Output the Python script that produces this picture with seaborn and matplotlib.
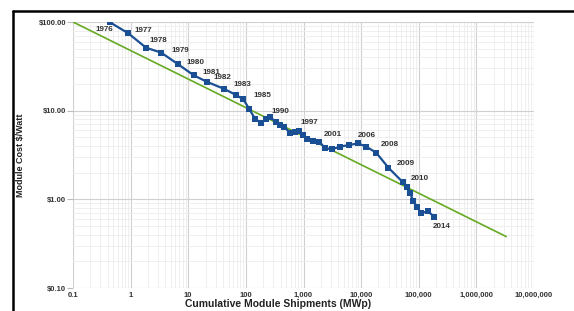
import matplotlib
matplotlib.use("Agg")
import matplotlib.pyplot as plt
import matplotlib.ticker as mticker
from matplotlib.lines import Line2D
import seaborn as sns
import pandas as pd

# ---- data ----
shipments_mw = [0.44, 0.91, 1.85, 3.4, 6.7, 12.4, 20.9, 42, 67.6, 90.5, 115, 144, 184, 224,
                263, 334, 392, 466, 585, 714, 850, 996, 1170, 1487, 1890, 2370, 3100, 4320,
                6270, 8770, 12200, 18200, 29800, 53000, 62100, 71000, 78800, 92600, 109000,
                144000, 185000]
cost_per_watt = [99, 74.6, 51.3, 45.1, 33.3, 25.1, 21.2, 17.6, 15.0, 13.4, 10.4, 8.1, 7.2, 8.0,
                 8.4, 7.5, 6.9, 6.5, 5.65, 5.8, 5.95, 5.3, 4.77, 4.6, 4.47, 3.77, 3.67, 3.93,
                 4.1, 4.28, 3.93, 3.37, 2.27, 1.56, 1.36, 1.19, 0.97, 0.83, 0.70, 0.73, 0.64]

trend_x = [0.1, 3.3e6]
trend_y = [100, 0.38]

label_years = ["1976", "1977", "1978", "1979", "1980", "1981", "1982", "1983", "1985",
               "1990", "1997", "2001", "2006", "2008", "2009", "2010", "2014"]
label_point_idx = [0, 1, 2, 3, 4, 5, 6, 7, 9, 14, 20, 25, 29, 31, 32, 33, 40]
# label offsets (pixels; +x right, +y down)
label_dx = [-6, 15, 12, 19, 17, 18, 16, 18, 19, 10, 10, 8, 9, 14, 17, 17, 8]
label_dy = [7, -3, -7, -2, -2, -3, -4, -4, -4, -6, -8, -14, -8, -8, -4, -4, 10]

x_ticks = [0.1, 1, 10, 100, 1000, 10000, 100000, 1000000, 10000000]
x_ticklabels = ["0.1", "1", "10", "100", "1,000", "10,000", "100,000", "1,000,000", "10,000,000"]
y_ticks = [0.1, 1, 10, 100]
y_ticklabels = ["$0.10", "$1.00", "$10.00", "$100.00"]

# ---- style ----
sns.set_style("white")
plt.rcParams["font.family"] = ["Liberation Sans", "DejaVu Sans"]
plt.rcParams["font.weight"] = "bold"

W, H = 574, 311
fig = plt.figure(figsize=(W / 100, H / 100), dpi=100)
ax = fig.add_axes([73 / W, (H - 288) / H, (534 - 73) / W, (288 - 22) / H])

df = pd.DataFrame({"x": shipments_mw, "y": cost_per_watt})
tdf = pd.DataFrame({"x": trend_x, "y": trend_y})

sns.lineplot(data=tdf, x="x", y="y", ax=ax, color="#66AA22", lw=1.2, zorder=3)
sns.lineplot(data=df, x="x", y="y", ax=ax, color="#1A4F94", lw=1.6, marker="s",
             markersize=4.5, markeredgewidth=0, estimator=None, sort=False, zorder=4)

ax.set_xscale("log")
ax.set_yscale("log")
ax.set_xlim(0.1, 1e7)
ax.set_ylim(0.1, 100)

ax.xaxis.set_major_locator(mticker.FixedLocator(x_ticks))
ax.xaxis.set_major_formatter(mticker.FixedFormatter(x_ticklabels))
ax.yaxis.set_major_locator(mticker.FixedLocator(y_ticks))
ax.yaxis.set_major_formatter(mticker.FixedFormatter(y_ticklabels))
ax.xaxis.set_minor_locator(mticker.LogLocator(base=10, subs=range(2, 10), numticks=20))
ax.yaxis.set_minor_locator(mticker.LogLocator(base=10, subs=range(2, 10), numticks=20))
ax.xaxis.set_minor_formatter(mticker.NullFormatter())
ax.yaxis.set_minor_formatter(mticker.NullFormatter())

ax.grid(which="major", color="#d0d0d0", lw=0.8, zorder=0)
ax.grid(which="minor", color="#ececec", lw=0.6, zorder=0)
ax.set_axisbelow(True)
for s in ax.spines.values():
    s.set_visible(False)

ax.tick_params(axis="x", which="major", length=0, labelsize=5.5, labelcolor="#333333", pad=3)
ax.tick_params(axis="y", which="major", length=4, color="#bbbbbb", labelsize=5.5,
               labelcolor="#333333", pad=1, direction="out", left=True)
ax.tick_params(which="minor", length=0)

ax.set_xlabel("Cumulative Module Shipments (MWp)", fontsize=7.5, fontweight="bold",
              color="#222222", labelpad=0)
ax.xaxis.set_label_coords((278 - 73) / (534 - 73), -(299 - 288) / (288 - 22))
ax.set_ylabel("Module Cost $/Watt", fontsize=6.5, fontweight="bold", color="#222222")
ax.yaxis.set_label_coords(-(73 - 25) / (534 - 73), 0.5)

for yr, idx, dx, dy in zip(label_years, label_point_idx, label_dx, label_dy):
    ax.annotate(yr, xy=(shipments_mw[idx], cost_per_watt[idx]),
                xytext=(dx * 0.72, -dy * 0.72), textcoords="offset points",
                ha="center", va="center", fontsize=5.8, fontweight="bold",
                color="#333333", zorder=5)

# outer frame lines (left and top)
fig.add_artist(Line2D([13 / W, 13 / W], [0, 1 - 11 / H], transform=fig.transFigure,
                      color="black", lw=1.8))
fig.add_artist(Line2D([13 / W, 1], [1 - 11 / H, 1 - 11 / H], transform=fig.transFigure,
                      color="black", lw=1.8))

fig.savefig("out.png", dpi=100)
